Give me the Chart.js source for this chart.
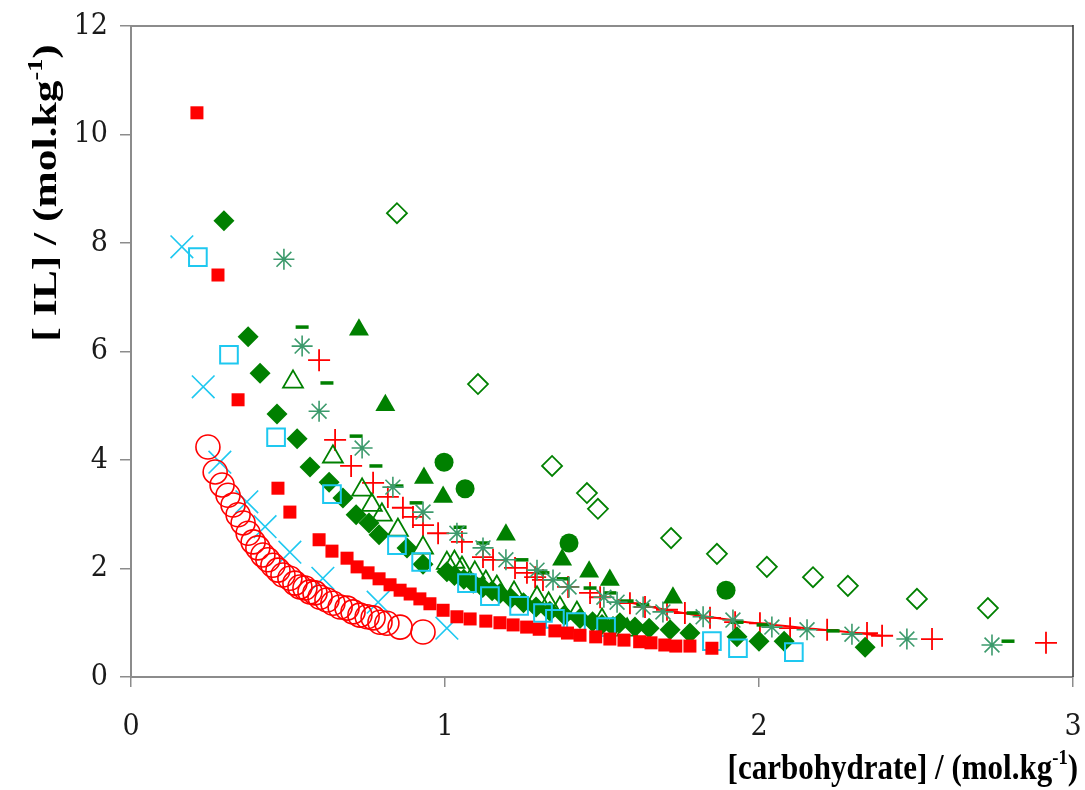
<!DOCTYPE html>
<html><head><meta charset="utf-8">
<script src="https://cdn.jsdelivr.net/npm/chart.js@4/dist/chart.umd.min.js"></script>
<style>html,body{margin:0;padding:0;background:#fff}</style>
</head><body>
<canvas id="c" width="1085" height="790"></canvas>
<script>
// ---- data (x = [carbohydrate] mol/kg, y = [IL] mol/kg) ----
const redSquares = [[0.210,10.40],[0.277,7.41],[0.341,5.11],[0.468,3.48],[0.506,3.04],[0.599,2.53],[0.640,2.32],[0.688,2.19],[0.720,2.03],[0.755,1.92],[0.790,1.81],[0.825,1.70],[0.857,1.60],[0.889,1.53],[0.920,1.44],[0.952,1.35],[0.994,1.23],[1.038,1.11],[1.080,1.07],[1.130,1.03],[1.175,1.00],[1.217,0.96],[1.260,0.92],[1.300,0.88],[1.350,0.85],[1.390,0.81],[1.430,0.77],[1.480,0.74],[1.525,0.70],[1.570,0.68],[1.620,0.65],[1.656,0.63],[1.700,0.59],[1.735,0.57],[1.780,0.57],[1.850,0.53]];
const redCircles = [[0.245,4.24],[0.268,3.78],[0.290,3.54],[0.309,3.35],[0.325,3.17],[0.341,2.99],[0.357,2.84],[0.373,2.65],[0.389,2.49],[0.404,2.38],[0.420,2.25],[0.436,2.16],[0.452,2.06],[0.468,1.97],[0.484,1.88],[0.506,1.82],[0.522,1.73],[0.538,1.66],[0.554,1.64],[0.570,1.57],[0.586,1.55],[0.602,1.47],[0.624,1.42],[0.643,1.36],[0.666,1.29],[0.688,1.27],[0.707,1.20],[0.729,1.14],[0.752,1.11],[0.771,1.09],[0.793,1.01],[0.815,0.99],[0.857,0.92],[0.930,0.83]];
const cyanCrosses = [[0.162,7.93],[0.230,5.35],[0.283,3.96],[0.369,3.23],[0.427,2.77],[0.506,2.30],[0.611,1.82],[0.787,1.38],[1.006,0.90]];
const cyanSquares = [[0.213,7.74],[0.312,5.94],[0.462,4.42],[0.640,3.37],[0.847,2.43],[0.924,2.12],[1.070,1.73],[1.143,1.49],[1.236,1.31],[1.312,1.18],[1.350,1.07],[1.417,1.01],[1.513,0.92],[1.850,0.66],[1.933,0.53],[2.111,0.46]];
const greenDiamonds = [[0.296,8.41],[0.373,6.27],[0.411,5.60],[0.465,4.85],[0.529,4.39],[0.570,3.87],[0.631,3.59],[0.675,3.30],[0.717,2.99],[0.758,2.84],[0.790,2.62],[0.879,2.38],[0.930,2.08],[1.006,1.94],[1.030,1.87],[1.060,1.80],[1.090,1.73],[1.120,1.65],[1.150,1.59],[1.175,1.54],[1.210,1.45],[1.250,1.37],[1.290,1.29],[1.334,1.21],[1.380,1.14],[1.430,1.08],[1.470,1.02],[1.500,0.97],[1.535,0.93],[1.557,1.00],[1.605,0.92],[1.650,0.90],[1.717,0.87],[1.780,0.81],[1.930,0.74],[2.000,0.66],[2.080,0.66],[2.338,0.55]];
const greenOpenTriangles = [[0.516,5.44],[0.643,4.06],[0.736,3.45],[0.767,3.17],[0.799,2.99],[0.850,2.71],[0.930,2.38],[1.006,2.10],[1.030,2.12],[1.054,2.01],[1.095,1.92],[1.130,1.75],[1.165,1.66],[1.220,1.55],[1.293,1.46],[1.330,1.35],[1.366,1.27],[1.420,1.18],[1.500,1.05],[1.580,0.87]];
const greenTriangles = [[0.726,6.40],[0.810,5.01],[0.933,3.67],[0.994,3.32],[1.194,2.62],[1.373,2.16],[1.459,1.94],[1.525,1.79],[1.726,1.46]];
const greenCircles = [[0.997,3.96],[1.064,3.47],[1.395,2.47],[1.895,1.60]];
const greenOpenDiamonds = [[0.847,8.55],[1.105,5.40],[1.341,3.89],[1.452,3.39],[1.487,3.10],[1.720,2.56],[1.866,2.27],[2.025,2.03],[2.172,1.84],[2.283,1.68],[2.503,1.44],[2.729,1.27]];
const greenStars = [[0.487,7.70],[0.545,6.10],[0.599,4.90],[0.736,4.22],[0.834,3.50],[0.930,3.04],[1.038,2.65],[1.121,2.38],[1.194,2.16],[1.293,1.97],[1.344,1.79],[1.395,1.66],[1.506,1.47],[1.548,1.38],[1.631,1.29],[1.694,1.20],[1.822,1.11],[1.917,1.05],[2.041,0.92],[2.153,0.87],[2.296,0.79],[2.471,0.70],[2.742,0.59]];
const greenDashes = [[0.545,6.45],[0.624,5.42],[0.717,4.44],[0.780,3.89],[0.847,3.52],[0.908,3.21],[1.048,2.76],[1.121,2.47],[1.245,2.16],[1.312,1.92],[1.376,1.81],[1.462,1.64],[1.525,1.55],[1.580,1.40],[1.630,1.33],[1.790,1.18],[1.930,1.01],[2.013,0.96],[2.236,0.85],[2.793,0.66]];
const redPluses = [[0.599,5.84],[0.650,4.37],[0.701,3.89],[0.771,3.58],[0.818,3.32],[0.866,3.12],[0.898,2.95],[0.930,2.80],[0.978,2.65],[1.054,2.49],[1.121,2.21],[1.153,2.16],[1.223,2.01],[1.261,1.92],[1.287,1.84],[1.312,1.79],[1.392,1.66],[1.462,1.55],[1.494,1.47],[1.589,1.36],[1.637,1.29],[1.707,1.24],[1.764,1.18],[1.844,1.09],[1.924,1.01],[2.003,0.99],[2.099,0.90],[2.217,0.87],[2.344,0.81],[2.392,0.76],[2.551,0.70],[2.914,0.63]];
const redLine = [[1.55,1.42],[1.65,1.30],[1.75,1.19],[1.85,1.10],[1.95,1.02],[2.05,0.96],[2.15,0.90],[2.25,0.85],[2.39,0.76]];
const xTicks = [0,1,2,3];
const yTicks = [0,2,4,6,8,10,12];
const xTitleParts = ['[carbohydrate] / (mol.kg', '-1', ')'];
const yTitleParts = ['[ IL] / (mol.kg', '-1', ')'];

const pts = a => a.map(p => ({x:p[0], y:p[1]}));
const RED='#ff0000', CYAN='#1ec8f0', GREEN='#008000', SEA='#3c9a6c';

function ds(data, style, r, fill, stroke, bw, extra){
  return Object.assign({data:pts(data), pointStyle:style, pointRadius:r, pointHoverRadius:r,
    backgroundColor:fill, borderColor:stroke, pointBorderWidth:bw, borderWidth:bw, showLine:false}, extra||{});
}

const datasets = [
  ds(redSquares,'rect',9.2,RED,RED,0),
  ds(cyanSquares,'rect',12.5,'rgba(0,0,0,0)',CYAN,2),
  ds(greenDiamonds,'rectRot',10.5,GREEN,GREEN,0),
  ds(greenTriangles,'triangle',11.5,GREEN,GREEN,0),
  ds(greenCircles,'circle',9.5,GREEN,GREEN,0),
  ds(greenOpenTriangles,'triangle',11.5,'rgba(0,0,0,0)',GREEN,1.8),
  ds(greenOpenDiamonds,'rectRot',10,'rgba(0,0,0,0)',GREEN,1.8),
  ds(redCircles,'circle',12,'rgba(0,0,0,0)',RED,1.6),
  ds(cyanCrosses,'crossRot',16,CYAN,CYAN,1.6),
  ds(greenStars,'star',10.5,SEA,SEA,1.6),
  ds(greenDashes,'line',6.5,GREEN,GREEN,3.5),
  ds(redPluses,'cross',11,RED,RED,1.8),
  Object.assign(ds(redLine,'circle',0,RED,RED,2),{showLine:true, borderWidth:2, tension:0.3})
];

const textPlugin = {
  id:'textFrame',
  afterDraw(chart){
    const {ctx, chartArea:a} = chart;
    ctx.save();
    ctx.lineWidth = 2; ctx.strokeStyle = '#8c8c8c';
    ctx.beginPath(); ctx.moveTo(a.left, a.top); ctx.lineTo(a.right, a.top); ctx.stroke();
    ctx.strokeStyle = '#333'; ctx.lineWidth = 1.5;
    ctx.beginPath(); ctx.moveTo(a.right, a.top-1); ctx.lineTo(a.right, a.bottom); ctx.stroke();
    ctx.restore();

    // tick labels (positions from the library's scales)
    const tickFont = '27px "DejaVu Serif"';
    const TS = 1.08;
    const xs = chart.scales.x, ys = chart.scales.y;
    ctx.save(); ctx.fillStyle = '#1a1a1a'; ctx.font = tickFont; ctx.textBaseline = 'middle';
    xTicks.forEach(v => {
      ctx.save(); ctx.translate(xs.getPixelForValue(v), 727); ctx.scale(1, TS);
      ctx.textAlign = 'center'; ctx.fillText(String(v), 0, 0); ctx.restore();
    });
    yTicks.forEach(v => {
      ctx.save(); ctx.translate(108, ys.getPixelForValue(v)); ctx.scale(1, TS);
      ctx.textAlign = 'right'; ctx.fillText(String(v), 0, 0); ctx.restore();
    });
    ctx.restore();

    // axis titles with superscript
    const font = s => `bold ${s}px "Liberation Serif"`;
    function measure(parts, size){
      ctx.font = font(size); const w0 = ctx.measureText(parts[0]).width;
      ctx.font = font(size*0.6); const w1 = ctx.measureText(parts[1]).width;
      ctx.font = font(size); const w2 = ctx.measureText(parts[2]).width;
      return {w0,w1,w2,total:w0+w1+w2};
    }
    function render(parts, size){
      const m = measure(parts,size);
      ctx.fillStyle = '#000'; ctx.textBaseline = 'alphabetic'; ctx.textAlign='left';
      ctx.font = font(size); ctx.fillText(parts[0], 0, 0);
      ctx.font = font(size*0.6); ctx.fillText(parts[1], m.w0, -size*0.42);
      ctx.font = font(size); ctx.fillText(parts[2], m.w0+m.w1, 0);
    }
    const xsz = 31, XS = 1.15;
    const mx = measure(xTitleParts, xsz);
    ctx.save(); ctx.translate(1078 - mx.total, 779); ctx.scale(1, XS); render(xTitleParts, xsz); ctx.restore();
    const ysz = 34, YS = 1.28;
    const my = measure(yTitleParts, ysz);
    ctx.save(); ctx.translate(56, 193 + my.total*YS/2); ctx.rotate(-Math.PI/2); ctx.scale(YS, 1);
    render(yTitleParts, ysz); ctx.restore();
  }
};

new Chart(document.getElementById('c'), {
  type:'scatter',
  data:{datasets},
  plugins:[textPlugin],
  options:{
    responsive:false, animation:false,
    layout:{autoPadding:false, padding:{top:26, right:12, left:0, bottom:0}},
    plugins:{legend:{display:false}, tooltip:{enabled:false}},
    scales:{
      x:{type:'linear', min:0, max:3,
        afterBuildTicks(s){ s.ticks = xTicks.map(v=>({value:v})); },
        afterFit(s){ s.height = 113; s.paddingLeft = 0; s.paddingRight = 0; },
        ticks:{display:false},
        grid:{drawOnChartArea:false, drawTicks:true, tickLength:10, color:'#8c8c8c', lineWidth:1.5},
        border:{display:true, color:'#8c8c8c', width:2},
        title:{display:false, text:xTitleParts.join('')}},
      y:{type:'linear', min:0, max:12,
        afterBuildTicks(s){ s.ticks = yTicks.map(v=>({value:v})); },
        afterFit(s){ s.width = 131; s.paddingTop = 0; s.paddingBottom = 0; },
        ticks:{display:false},
        grid:{drawOnChartArea:false, drawTicks:true, tickLength:11, color:'#8c8c8c', lineWidth:1.5},
        border:{display:true, color:'#8c8c8c', width:2},
        title:{display:false, text:yTitleParts.join('')}}
    }
  }
});
</script>
</body></html>
